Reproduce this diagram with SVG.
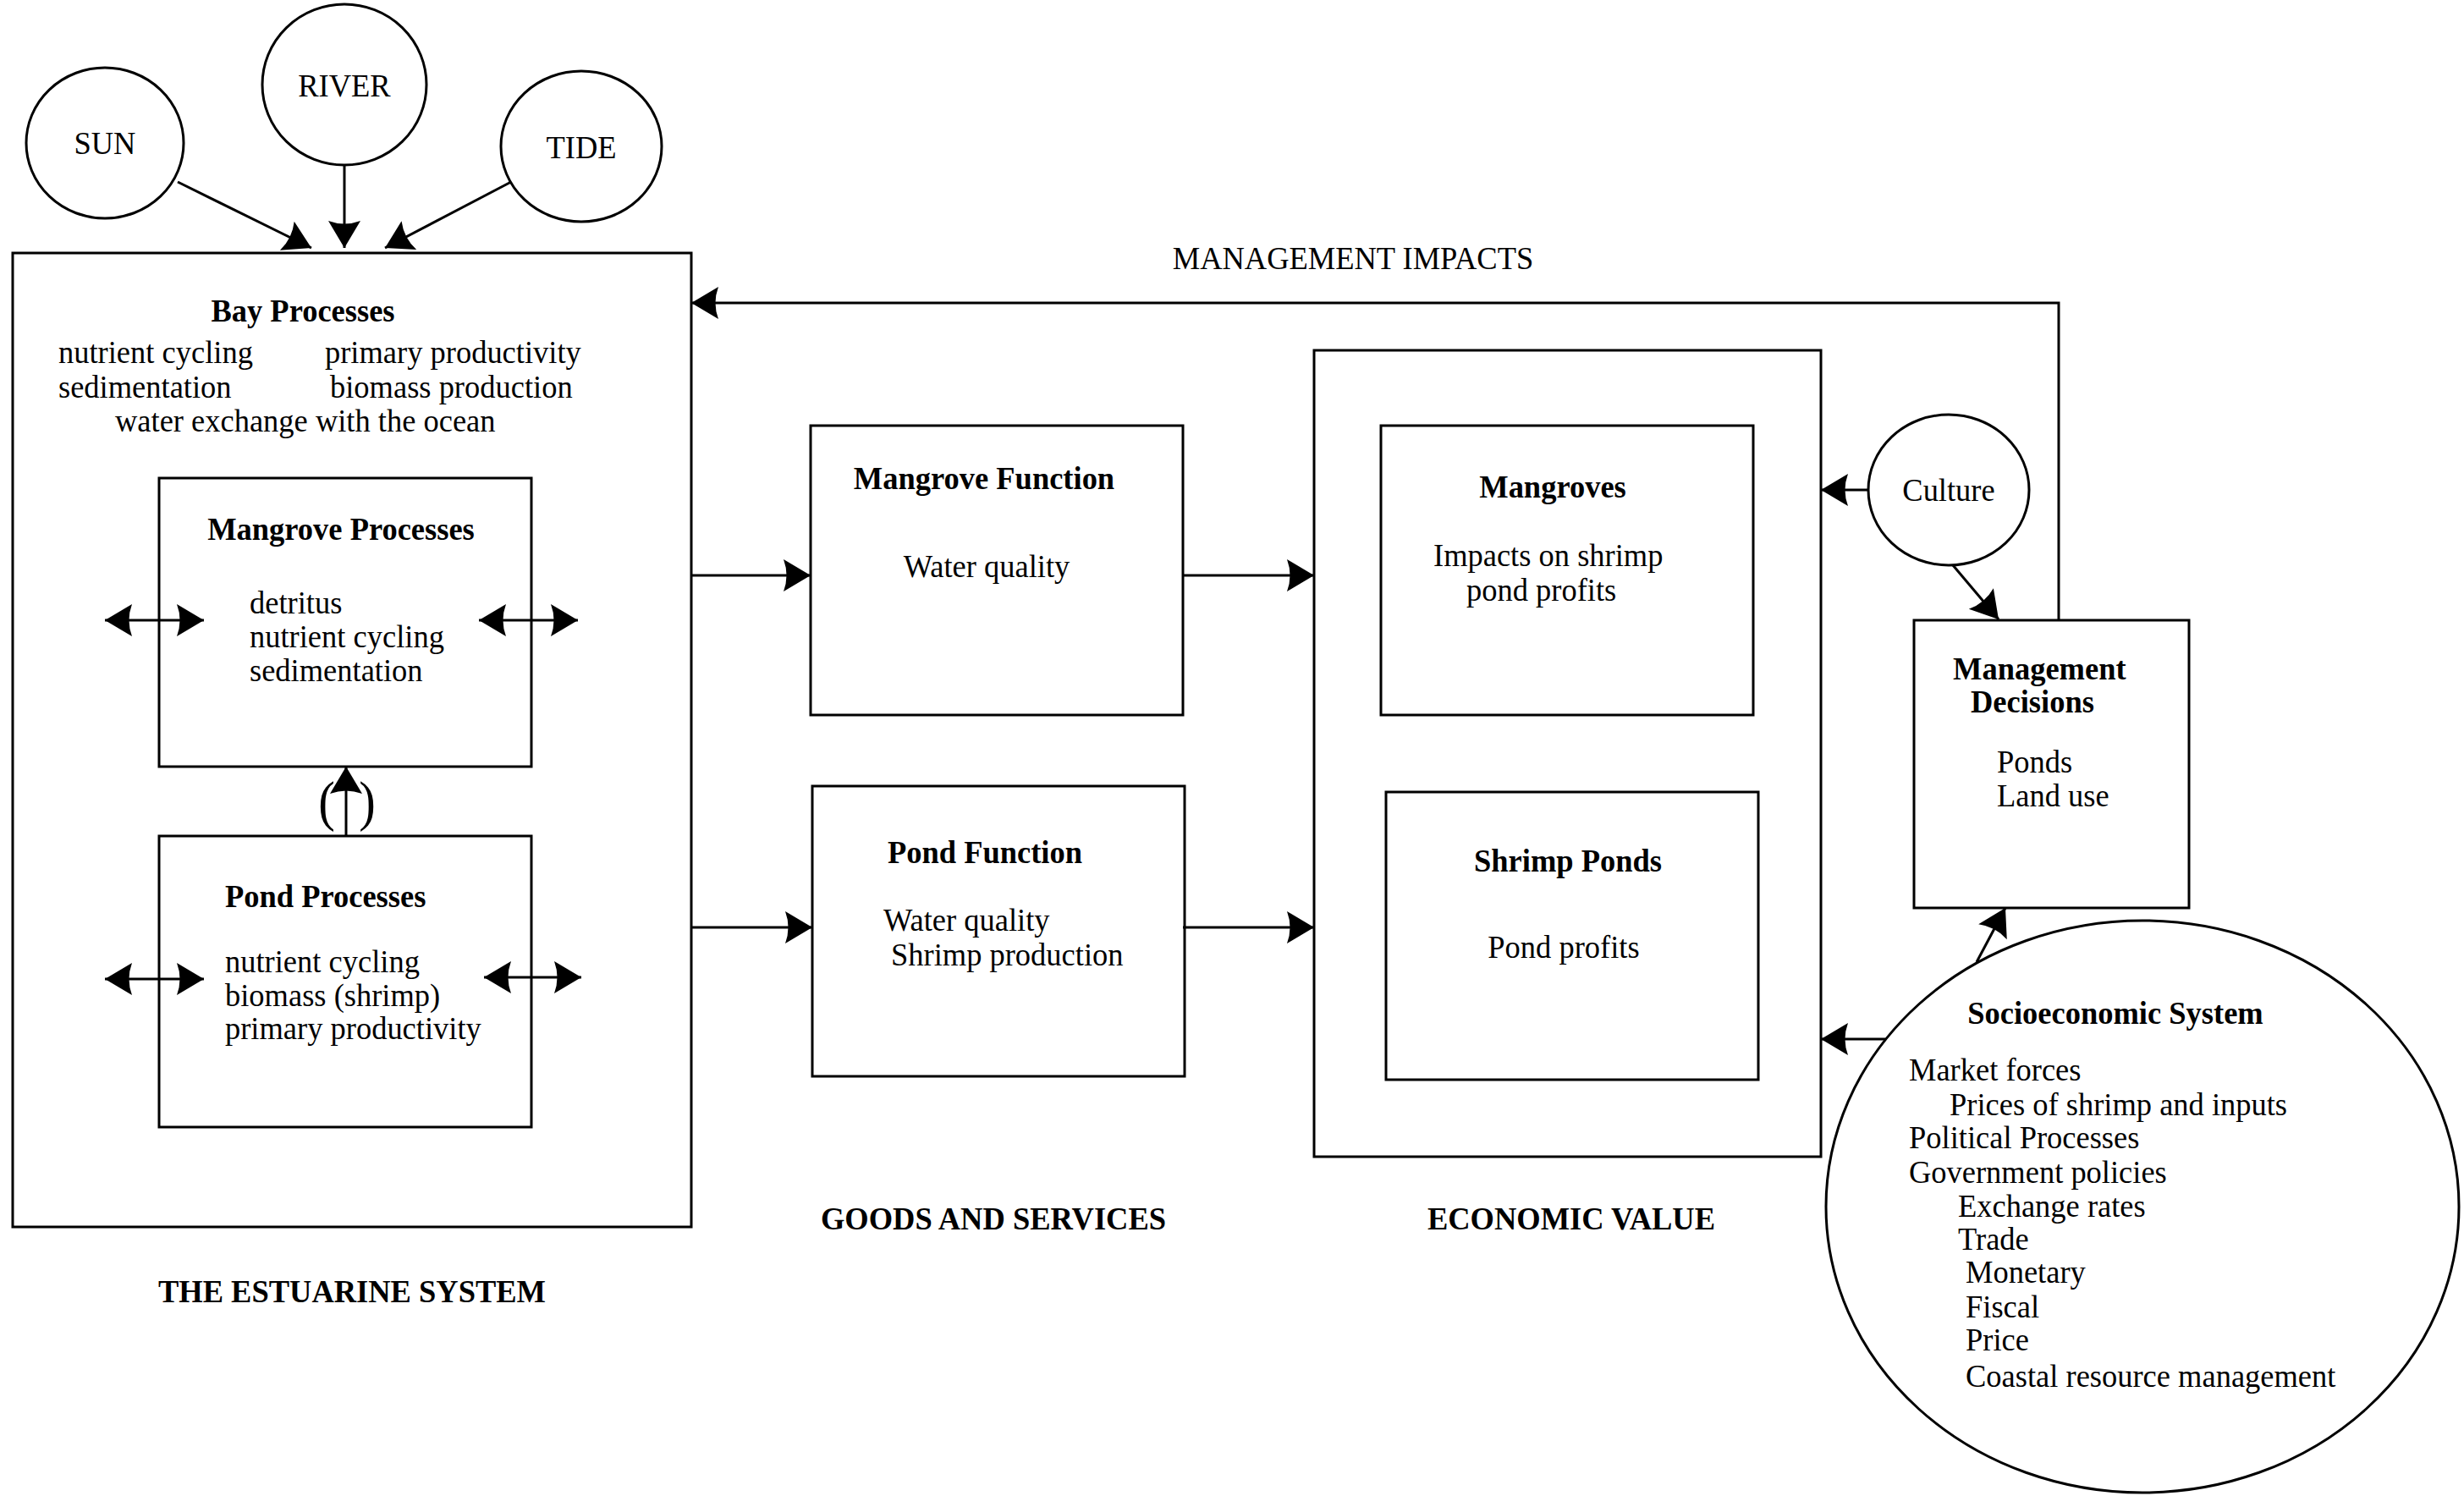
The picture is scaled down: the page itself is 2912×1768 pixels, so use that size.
<svg xmlns="http://www.w3.org/2000/svg" width="2912" height="1768" viewBox="0 0 2912 1768">
<style>
text{font-family:"Liberation Serif","Times New Roman",serif;font-size:38px;fill:#000;transform-box:fill-box;transform-origin:0% 50%;transform:scaleX(0.96)}
.b{font-weight:bold}
.m{text-anchor:middle;transform-origin:50% 50%}
.box{fill:none;stroke:#000;stroke-width:3}
.ell{fill:#fff;stroke:#000;stroke-width:3}
.ln{fill:none;stroke:#000;stroke-width:3}
.par{font-size:66px;transform:scaleX(0.89)}
</style>
<defs>
<marker id="ah" viewBox="-34 -21 36 42" refX="0" refY="0" markerWidth="36" markerHeight="42" markerUnits="userSpaceOnUse" orient="auto-start-reverse">
<path d="M0,0 L-32,-19 Q-25,0 -32,19 Z" fill="#000"/>
</marker>
</defs>
<rect width="2912" height="1768" fill="#fff"/>

<g id="sun"><ellipse class="ell" cx="124" cy="169" rx="93" ry="89"/><text class="m" x="124" y="182">SUN</text></g>
<g id="river"><ellipse class="ell" cx="407" cy="100" rx="97" ry="95"/><text class="m" x="407" y="114">RIVER</text></g>
<g id="tide"><ellipse class="ell" cx="687" cy="173" rx="95" ry="89"/><text class="m" x="687" y="187">TIDE</text></g>

<g id="estuarine">
<rect class="box" x="15" y="299" width="802" height="1151"/>
<text class="b m" x="358" y="380">Bay Processes</text>
<text x="69" y="429">nutrient cycling</text>
<text x="384" y="429">primary productivity</text>
<text x="69" y="470">sedimentation</text>
<text x="390" y="470">biomass production</text>
<text x="136" y="510">water exchange with the ocean</text>
<text class="b m" x="416" y="1539">THE ESTUARINE SYSTEM</text>
</g>

<g id="mangrove-processes">
<rect class="box" x="188" y="565" width="440" height="341"/>
<text class="b m" x="403" y="638">Mangrove Processes</text>
<text x="295" y="725">detritus</text>
<text x="295" y="765">nutrient cycling</text>
<text x="295" y="805">sedimentation</text>
</g>

<g id="pond-processes">
<rect class="box" x="188" y="988" width="440" height="344"/>
<text class="b" x="266" y="1072">Pond Processes</text>
<text x="266" y="1149">nutrient cycling</text>
<text x="266" y="1189">biomass (shrimp)</text>
<text x="266" y="1228">primary productivity</text>
</g>

<g id="mangrove-function">
<rect class="box" x="958" y="503" width="440" height="342"/>
<text class="b m" x="1163" y="578">Mangrove Function</text>
<text class="m" x="1166" y="682">Water quality</text>
</g>

<g id="pond-function">
<rect class="box" x="960" y="929" width="440" height="343"/>
<text class="b" x="1049" y="1020">Pond Function</text>
<text x="1044" y="1100">Water quality</text>
<text x="1053" y="1141">Shrimp production</text>
<text class="b m" x="1174" y="1453">GOODS AND SERVICES</text>
</g>

<g id="economic-value">
<rect class="box" x="1553" y="414" width="599" height="953"/>
<text class="b m" x="1857" y="1453">ECONOMIC VALUE</text>
</g>

<g id="mangroves">
<rect class="box" x="1632" y="503" width="440" height="342"/>
<text class="b m" x="1835" y="588">Mangroves</text>
<text x="1694" y="669">Impacts on shrimp</text>
<text x="1733" y="710">pond profits</text>
</g>

<g id="shrimp-ponds">
<rect class="box" x="1638" y="936" width="440" height="340"/>
<text class="b m" x="1853" y="1030">Shrimp Ponds</text>
<text class="m" x="1848" y="1132">Pond profits</text>
</g>

<g id="culture"><ellipse class="ell" cx="2303" cy="579" rx="95" ry="89"/><text class="m" x="2303" y="592">Culture</text></g>

<g id="management-decisions">
<rect class="box" x="2262" y="733" width="325" height="340"/>
<text class="b" x="2308" y="803">Management</text>
<text class="b" x="2329" y="842">Decisions</text>
<text x="2360" y="913">Ponds</text>
<text x="2360" y="953">Land use</text>
</g>

<g id="socioeconomic">
<ellipse class="ell" cx="2532" cy="1426" rx="374" ry="338"/>
<text class="b m" x="2500" y="1210">Socioeconomic System</text>
<text x="2256" y="1277">Market forces</text>
<text x="2304" y="1318">Prices of shrimp and inputs</text>
<text x="2256" y="1357">Political Processes</text>
<text x="2256" y="1398">Government policies</text>
<text x="2314" y="1438">Exchange rates</text>
<text x="2314" y="1477">Trade</text>
<text x="2323" y="1516">Monetary</text>
<text x="2323" y="1557">Fiscal</text>
<text x="2323" y="1596">Price</text>
<text x="2323" y="1639">Coastal resource management</text>
</g>

<text class="m" x="1599" y="318">MANAGEMENT IMPACTS</text>

<g id="connectors">
<line class="ln" x1="210" y1="215" x2="368" y2="293" marker-end="url(#ah)"/>
<line class="ln" x1="407" y1="195" x2="407" y2="293" marker-end="url(#ah)"/>
<line class="ln" x1="604" y1="215" x2="455" y2="293" marker-end="url(#ah)"/>
<line class="ln" x1="124" y1="733" x2="241" y2="733" marker-start="url(#ah)" marker-end="url(#ah)"/>
<line class="ln" x1="566" y1="733" x2="683" y2="733" marker-start="url(#ah)" marker-end="url(#ah)"/>
<line class="ln" x1="124" y1="1157" x2="241" y2="1157" marker-start="url(#ah)" marker-end="url(#ah)"/>
<line class="ln" x1="572" y1="1155" x2="687" y2="1155" marker-start="url(#ah)" marker-end="url(#ah)"/>
<line class="ln" x1="409" y1="988" x2="409" y2="906" marker-end="url(#ah)"/>
<text class="par m" x="386" y="969">(</text>
<text class="par m" x="434" y="969">)</text>
<line class="ln" x1="817" y1="680" x2="958" y2="680" marker-end="url(#ah)"/>
<line class="ln" x1="1398" y1="680" x2="1553" y2="680" marker-end="url(#ah)"/>
<line class="ln" x1="817" y1="1096" x2="960" y2="1096" marker-end="url(#ah)"/>
<line class="ln" x1="1398" y1="1096" x2="1553" y2="1096" marker-end="url(#ah)"/>
<polyline class="ln" points="2433,733 2433,358 817,358" marker-end="url(#ah)"/>
<line class="ln" x1="2208" y1="579" x2="2152" y2="579" marker-end="url(#ah)"/>
<line class="ln" x1="2308" y1="668" x2="2362" y2="732" marker-end="url(#ah)"/>
<line class="ln" x1="2336" y1="1137" x2="2370" y2="1073" marker-end="url(#ah)"/>
<line class="ln" x1="2228" y1="1228" x2="2152" y2="1228" marker-end="url(#ah)"/>
</g>
</svg>
